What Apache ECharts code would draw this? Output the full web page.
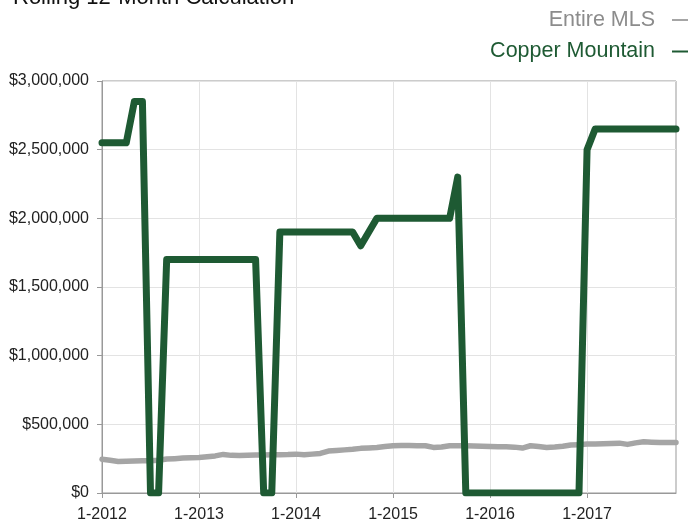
<!DOCTYPE html>
<html>
<head>
<meta charset="utf-8">
<script src="https://cdn.jsdelivr.net/npm/echarts@6/dist/echarts.min.js"></script>
<style>
html,body{margin:0;padding:0;background:#fff;}
#chart{width:689px;height:523px;}
</style>
</head>
<body>
<div id="chart"></div>
<script>
const titleText = 'Rolling 12-Month Calculation';
const seriesNames = ['Entire MLS', 'Copper Mountain'];
const years = [2012, 2013, 2014, 2015, 2016, 2017];
const months = years.flatMap(y => Array.from({length: 12}, (_, m) => (m + 1) + '-' + y));

const entireMLS = [
  245000, 238000, 230000, 232000, 233000, 234000, 235000, 238000, 247000, 250000, 254000, 257000,
  259000, 264000, 270000, 281000, 274000, 273000, 275000, 276000, 277000, 278000, 279000, 280000,
  283000, 278000, 283000, 288000, 305000, 310000, 314000, 318000, 325000, 328000, 332000, 338000,
  344000, 345000, 345000, 344000, 344000, 332000, 335000, 344000, 344000, 344000, 343000, 341000,
  339000, 337000, 336000, 334000, 327000, 344000, 338000, 332000, 335000, 340000, 349000, 352000,
  356000, 357000, 358000, 360000, 363000, 354000, 365000, 373000, 370000, 368000, 368000, 368000
];
const copperMountain = [
  2550000, 2550000, 2550000, 2550000, 2850000, 2850000, 0, 0, 1700000, 1700000, 1700000, 1700000,
  1700000, 1700000, 1700000, 1700000, 1700000, 1700000, 1700000, 1700000, 0, 0, 1900000, 1900000,
  1900000, 1900000, 1900000, 1900000, 1900000, 1900000, 1900000, 1900000, 1800000, 1900000, 2000000, 2000000,
  2000000, 2000000, 2000000, 2000000, 2000000, 2000000, 2000000, 2000000, 2300000, 0, 0, 0,
  0, 0, 0, 0, 0, 0, 0, 0, 0, 0, 0, 0,
  2500000, 2650000, 2650000, 2650000, 2650000, 2650000, 2650000, 2650000, 2650000, 2650000, 2650000, 2650000
];

const FONT = '"Liberation Sans", Arial, Helvetica, sans-serif';
const GRAY = '#a5a5a5';
const GREEN = '#1e5a33';

const chart = echarts.init(document.getElementById('chart'), null, {renderer: 'canvas'});
chart.setOption({
  animation: false,
  backgroundColor: '#ffffff',
  textStyle: {fontFamily: FONT},
  graphic: [{
    type: 'text', left: 13, top: -13,
    style: {text: titleText, fontSize: 22, fill: '#111', fontFamily: FONT}
  }],
  legend: {
    orient: 'vertical', right: -4, top: 4, align: 'right',
    itemGap: 9.5, itemWidth: 16, itemHeight: 2, icon: 'rect',
    formatter: n => n + '  ',
    data: [
      {name: seriesNames[0], textStyle: {color: '#8c8c8c'}, itemStyle: {color: GRAY}},
      {name: seriesNames[1], textStyle: {color: GREEN}, itemStyle: {color: GREEN}}
    ],
    textStyle: {fontSize: 21.5, fontFamily: FONT}
  },
  grid: {left: 102, right: 13, top: 81, bottom: 29, show: true, borderColor: '#999', borderWidth: 1},
  xAxis: {
    type: 'category', boundaryGap: false, data: months,
    axisLine: {lineStyle: {color: '#999'}},
    axisTick: {show: true, interval: 11, length: 5, lineStyle: {color: '#999'}},
    axisLabel: {interval: 11, fontSize: 16, color: '#222', margin: 14},
    splitLine: {show: true, interval: 11, lineStyle: {color: '#e3e3e3'}}
  },
  yAxis: {
    type: 'value', min: 0, max: 3000000, interval: 500000,
    axisLine: {show: true, lineStyle: {color: '#999'}},
    axisTick: {show: true, length: 5, lineStyle: {color: '#999'}},
    axisLabel: {fontSize: 16, color: '#222', margin: 13,
      formatter: v => '$' + v.toLocaleString('en-US')},
    splitLine: {show: true, lineStyle: {color: '#e3e3e3'}}
  },
  series: [
    {name: seriesNames[0], type: 'line', data: entireMLS, symbol: 'none', z: 2,
      lineStyle: {color: GRAY, width: 5.5, cap: 'round', join: 'round'}, itemStyle: {color: GRAY}},
    {name: seriesNames[1], type: 'line', data: copperMountain, symbol: 'none', z: 3,
      lineStyle: {color: GREEN, width: 7, cap: 'round', join: 'round'}, itemStyle: {color: GREEN}}
  ]
});
</script>
</body>
</html>
